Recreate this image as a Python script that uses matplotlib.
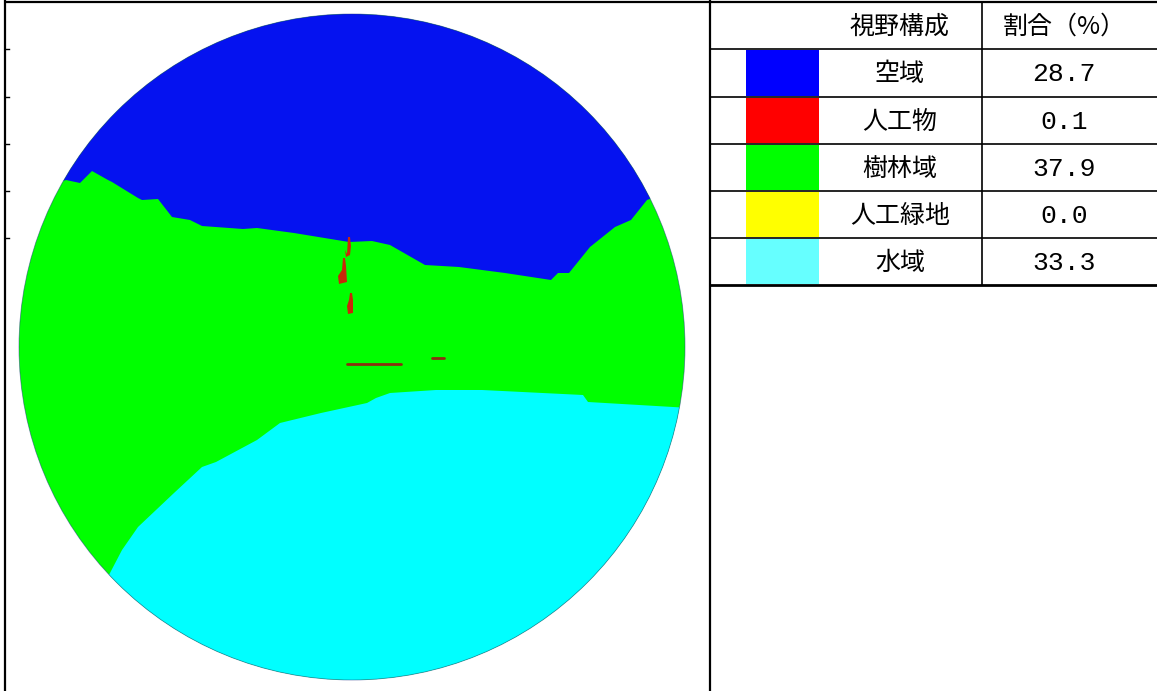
import matplotlib.pyplot as plt
from matplotlib.patches import Circle, Polygon, Rectangle

plt.rcParams['font.family'] = ['Noto Sans CJK JP', 'DejaVu Sans']

# table contents
header = ['視野構成', '割合（%）']
categories = ['空域', '人工物', '樹林域', '人工緑地', '水域']
ratios = ['28.7', '0.1', '37.9', '0.0', '33.3']
swatch_colors = ['#0000ff', '#ff0000', '#00ff00', '#ffff00', '#66ffff']

# view picture (image pixel coordinates, circle centre / radius)
cx, cy, r = 352, 347, 333
sky_x = [60, 66, 80, 92, 108, 112, 138, 142, 158, 172, 190, 202, 243, 257, 294, 349, 372, 390,
         425, 459, 505, 551, 558, 569, 590, 615, 631, 647, 660]
sky_y = [182, 180, 183, 171, 180, 182, 198, 200, 199, 217, 220, 226, 229, 228, 233, 242, 241, 245,
         265, 267, 273, 280, 273, 273, 247, 227, 220, 200, 195]
water_x = [100, 110, 122, 138, 174, 202, 216, 257, 280, 321, 367, 376, 390, 436, 482, 583, 588, 690]
water_y = [590, 573, 550, 527, 493, 467, 462, 440, 423, 413, 403, 398, 393, 390, 390, 395, 402, 408]
# artificial objects (small red marks)
obj_x = [[347, 348, 350, 351, 350, 346, 345],
         [342, 343, 345, 346, 347, 339, 338],
         [349, 350, 352, 353, 353, 348, 347]]
obj_y = [[254, 237, 237, 246, 255, 257, 250],
         [270, 258, 258, 266, 282, 284, 276],
         [300, 293, 293, 300, 313, 314, 306]]
line_x = [[347, 401], [432, 444]]
line_y = [[364, 364], [358, 358]]

fig = plt.figure(figsize=(11.57, 6.91), dpi=100)
ax = fig.add_axes([0, 0, 1, 1])
ax.set_xlim(0, 1157)
ax.set_ylim(691, 0)
ax.axis('off')

clip = Circle((cx, cy), r, transform=ax.transData)

base = Circle((cx, cy), r, facecolor='#00ff00', edgecolor='none')
ax.add_patch(base)

sky = Polygon(list(zip(sky_x, sky_y)) + [(700, 0), (0, 0)], closed=True,
              facecolor='#0512f0', edgecolor='none')
ax.add_patch(sky)
sky.set_clip_path(clip)

water = Polygon(list(zip(water_x, water_y)) + [(700, 691), (0, 691)], closed=True,
                facecolor='#00ffff', edgecolor='none')
ax.add_patch(water)
water.set_clip_path(clip)

for xs, ys in zip(obj_x, obj_y):
    ax.fill(xs, ys, color='#c8280a', lw=0)
for xs, ys in zip(line_x, line_y):
    ax.plot(xs, ys, color='#8a3010', lw=2.0, solid_capstyle='round')

ax.add_patch(Circle((cx, cy), r, facecolor='none', edgecolor='#1a2a80', lw=0.6, alpha=0.5))

# frame
k = dict(color='black', lw=1.6, solid_capstyle='butt')
ax.plot([5, 5], [0, 691], **k)
ax.plot([5, 1157], [2, 2], **k)
ax.plot([710, 710], [0, 691], **k)
ax.plot([982, 982], [2, 285], color='black', lw=1.2)
ax.plot([710, 1157], [285, 285], color='black', lw=2.0)

row_edges = [2, 49, 97, 144, 191, 238, 285]
for y in row_edges[1:-1]:
    ax.plot([710, 1157], [y, y], color='black', lw=1.2)
    ax.plot([5, 9], [y, y], color='black', lw=1.0)

ax.text(900, 27, header[0], ha='center', va='center', fontsize=18)
ax.text(1064, 27, header[1], ha='center', va='center', fontsize=18)

for i, (cat, val, col) in enumerate(zip(categories, ratios, swatch_colors)):
    y0, y1 = row_edges[i + 1], row_edges[i + 2]
    ax.add_patch(Rectangle((746, y0 + 1), 73, y1 - y0 - 2, facecolor=col, edgecolor='none'))
    ym = (y0 + y1) / 2
    ax.text(900, ym + 1, cat, ha='center', va='center', fontsize=18)
    ax.text(1064, ym + 1, val, ha='center', va='center', fontsize=19,
            family=['Liberation Mono', 'DejaVu Sans'])

fig.savefig('out.png', dpi=100)
